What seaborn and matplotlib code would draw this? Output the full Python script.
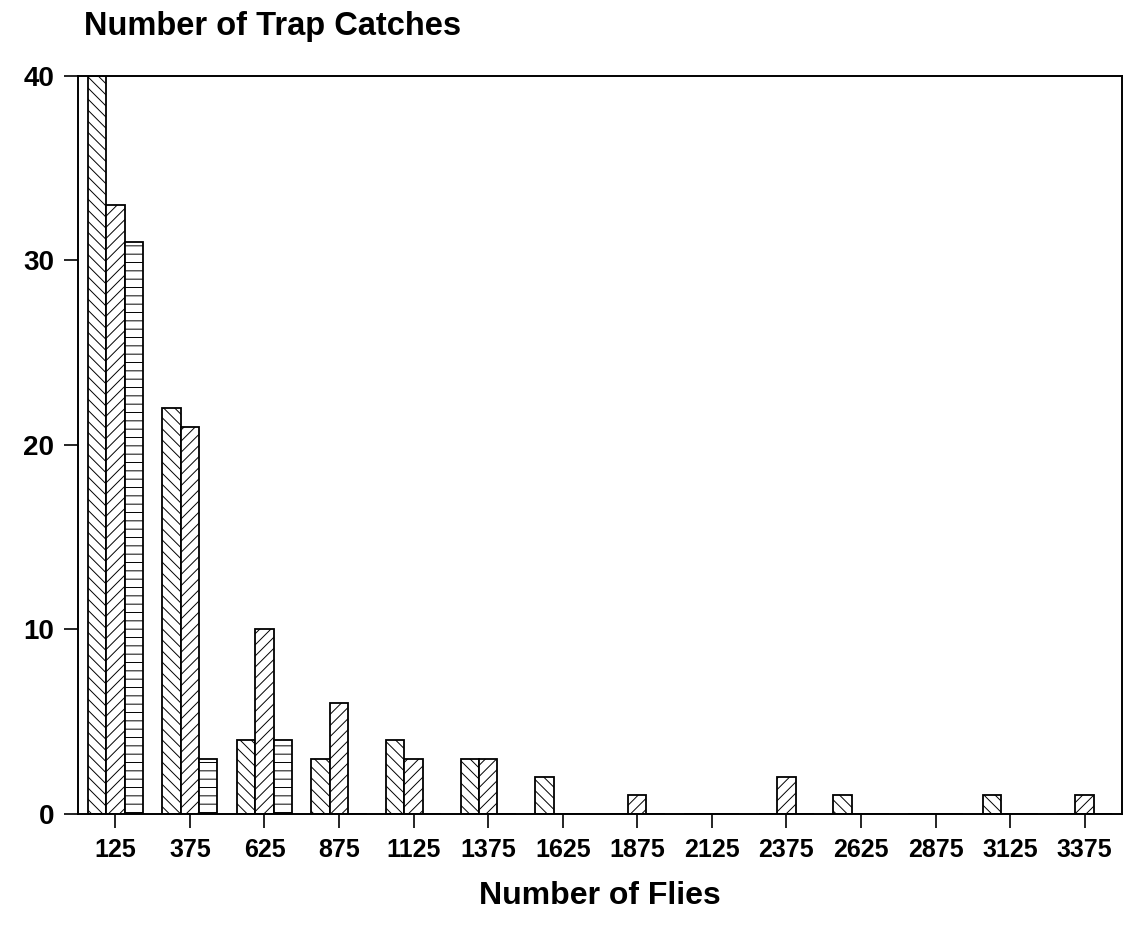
import matplotlib
matplotlib.use("Agg")
import matplotlib.pyplot as plt
import numpy as np
import pandas as pd
import seaborn as sns

# fly count classes (bin centres) and trap catches per class, three trap series
flies = ["125", "375", "625", "875", "1125", "1375", "1625", "1875",
         "2125", "2375", "2625", "2875", "3125", "3375"]
series_a = [40, 22, 4, 3, 4, 3, 2, 0, 0, 0, 1, 0, 1, 0]
series_b = [33, 21, 10, 6, 3, 3, 0, 1, 0, 2, 0, 0, 0, 1]
series_c = [31, 3, 4, 0, 0, 0, 0, 0, 0, 0, 0, 0, 0, 0]
series_names = ["A", "B", "C"]
y_ticks = [0, 10, 20, 30, 40]

rows = []
for name, vals in zip(series_names, [series_a, series_b, series_c]):
    for f, v in zip(flies, vals):
        rows.append({"flies": f, "catches": v, "series": name})
df = pd.DataFrame(rows)

sns.set_style("ticks")
plt.rcParams['font.family'] = ['Liberation Sans', 'DejaVu Sans']
plt.rcParams['hatch.linewidth'] = 0.7
plt.rcParams['hatch.color'] = '#222222'
plt.rcParams['text.color'] = 'black'
plt.rcParams['axes.labelcolor'] = 'black'
plt.rcParams['xtick.color'] = 'black'
plt.rcParams['ytick.color'] = 'black'

fig = plt.figure(figsize=(11.31, 9.27), dpi=100)
ax = fig.add_axes([0.069, 0.122, 0.923, 0.796])

sns.barplot(data=df, x="flies", y="catches", hue="series", order=flies,
            hue_order=series_names, palette=["white"] * 3, width=0.74,
            edgecolor="black", linewidth=1.3, legend=False, ax=ax)

hatches = ["\\\\\\", "///", "--"]
for cont, h in zip(ax.containers, hatches):
    for bar in cont:
        bar.set_hatch(h)

ax.set_ylim(0, 40)
ax.set_xlim(-0.5, 13.5)
ax.set_yticks(y_ticks)
ax.set_xlabel("Number of Flies", fontsize=23, fontweight="bold", labelpad=14)
ax.set_ylabel("")
fig.text(84 / 1131, 1 - 27 / 927, "Number of Trap Catches", fontsize=23.5,
         fontweight="bold", ha="left", va="center")

ax.tick_params(axis="x", direction="out", length=10, width=1.2, pad=7,
               labelsize=18)
ax.tick_params(axis="y", direction="out", length=10, width=1.2, pad=7,
               labelsize=20)
for lbl in ax.get_xticklabels() + ax.get_yticklabels():
    lbl.set_fontweight("bold")

for sp in ax.spines.values():
    sp.set_visible(True)
    sp.set_linewidth(1.4)
    sp.set_color("black")

plt.savefig("out.png", dpi=100)
